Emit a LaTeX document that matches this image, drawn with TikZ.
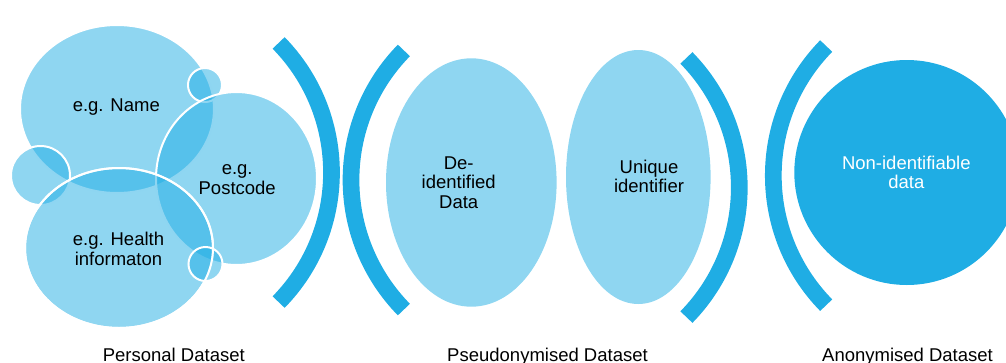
\documentclass[tikz,border=0pt]{standalone}
\usepackage{fontspec}
\setmainfont{Liberation Sans}
\usetikzlibrary{shapes.geometric}
\definecolor{arcblue}{HTML}{1FADE4}
\definecolor{lightblue}{HTML}{8FD6F1}
\begin{document}
\begin{tikzpicture}[x=1pt,y=-1pt,
  bubble/.style={ellipse, inner sep=0pt, fill=arcblue, fill opacity=0.5, draw=white, draw opacity=1, line width=2pt},
  oval/.style={ellipse, inner sep=0pt, fill=lightblue, draw=none},
  bracket/.style={draw=arcblue, line width=16.7pt, line cap=butt},
  lbl/.style={font=\fontsize{18.5}{19.5}\selectfont, align=center, anchor=base, inner sep=0pt, text=black},
]
\useasboundingbox (0,0) rectangle (1006,362);

% personal dataset bubbles
\node[bubble, minimum width=194pt, minimum height=168pt] (name) at (117,109) {};
\node[bubble, minimum width=34pt, minimum height=34pt] (stop) at (205,85) {};
\node[bubble, minimum width=59pt, minimum height=59pt] (sleft) at (40.5,175.5) {};
\node[bubble, minimum width=161pt, minimum height=173pt] (post) at (236.5,178.5) {};
\node[bubble, minimum width=188pt, minimum height=160pt] (health) at (119,248) {};
\node[bubble, minimum width=34pt, minimum height=34pt] (sbot) at (205.5,264) {};
\draw[white, line width=2pt] (health.center) ellipse [x radius=94pt, y radius=80pt];

% brackets
\coordinate (c1) at (146.3,172.5);
\coordinate (c2) at (536.2,180);
\coordinate (c3) at (554.1,187.5);
\coordinate (c4) at (958.5,175.6);
\draw[bracket] ([shift={(-44.4:185.2pt)}]c1) arc[start angle=-44.4, end angle=44.4, radius=185.2pt];
\draw[bracket] ([shift={(135.6:185.2pt)}]c2) arc[start angle=135.6, end angle=224.4, radius=185.2pt];
\draw[bracket] ([shift={(-44.4:185.2pt)}]c3) arc[start angle=-44.4, end angle=44.4, radius=185.2pt];
\draw[bracket] ([shift={(135.6:185.2pt)}]c4) arc[start angle=135.6, end angle=224.4, radius=185.2pt];

% pseudonymised and anonymised shapes
\node[oval, minimum width=170.6pt, minimum height=248.4pt] (deid) at (471.3,182.5) {};
\node[oval, minimum width=144.6pt, minimum height=254pt] (uniq) at (638.3,177) {};
\node[ellipse, inner sep=0pt, fill=arcblue, minimum width=225pt, minimum height=225pt] (non) at (906.8,172.5) {};

% texts (base anchor = baseline of the last line)
\node[lbl] (tname) at (116.3,111) {e.g. Name};
\node[lbl] (tpost) at (237.2,194) {e.g.\\Postcode};
\node[lbl] (thealth) at (118.5,265) {e.g. Health\\informaton};
\node[lbl] (tdeid) at (458.7,208) {De-\\identified\\Data};
\node[lbl] (tuniq) at (649,192.5) {Unique\\identifier};
\node[lbl, text=white] (tnon) at (906.3,188.5) {Non-identifiable\\data};
\node[lbl] (lpers) at (173.8,361.5) {Personal Dataset};
\node[lbl] (lpseu) at (547.5,361.5) {Pseudonymised Dataset};
\node[lbl] (lanon) at (907.5,361.5) {Anonymised Dataset};
\end{tikzpicture}
\end{document}
